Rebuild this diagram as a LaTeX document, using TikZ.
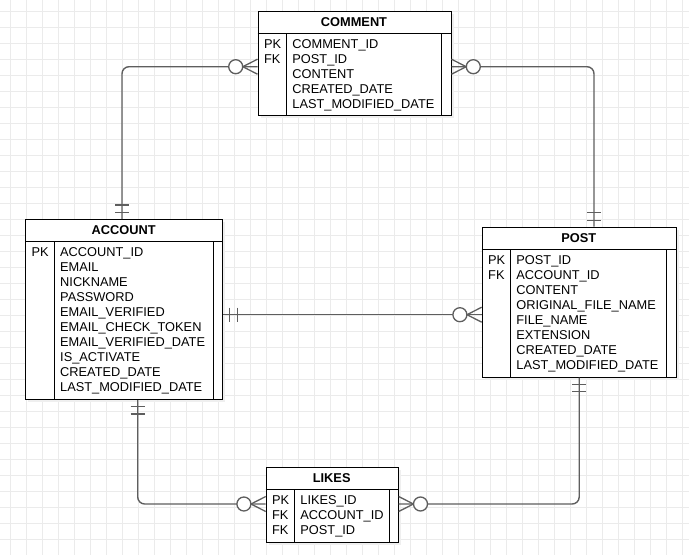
\documentclass[tikz,border=0pt]{standalone}
\usepackage{fontspec}
\setmainfont{Liberation Sans}
\definecolor{gridgray}{HTML}{EBEBEB}
\definecolor{shadowgray}{HTML}{EFEFEF}
\definecolor{conngray}{HTML}{5E5E5E}
\begin{document}
\begin{tikzpicture}[x=1pt,y=-1pt,
  gridline/.style={draw=gridgray, line width=1pt},
  tablebox/.style={draw=black, line width=1pt, fill=white, rectangle, inner sep=0pt, anchor=north west},
  rulel/.style={draw=black, line width=1pt},
  conn/.style={draw=conngray, line width=1.4pt, rounded corners=7pt},
  endmark/.style={draw=conngray, line width=1.3pt},
  title/.style={font=\bfseries\fontsize{12.8}{15}\selectfont, inner sep=0pt},
  field/.style={font=\fontsize{12.8}{15}\selectfont, inner sep=0pt, anchor=base west},
]
\useasboundingbox (0,0) rectangle (689,555);

% background grid
\foreach \i in {0,...,42} \draw[gridline] ({10.3+16*\i},0) -- ({10.3+16*\i},555);
\foreach \j in {0,...,33} \draw[gridline] (0,{11.3+16*\j}) -- (689,{11.3+16*\j});

% drop shadows of the tables
\fill[shadowgray] (260.5,13.7) rectangle (453.5,118);
\fill[shadowgray] (28,222) rectangle (225.3,402);
\fill[shadowgray] (484.7,229.7) rectangle (678.7,379.7);
\fill[shadowgray] (268.7,469.7) rectangle (400.7,544.7);

% table outlines (named so connectors can attach to them)
\node[tablebox, minimum width=193pt, minimum height=104.3pt] (comment) at (257.5,10.7) {};
\node[tablebox, minimum width=197.3pt, minimum height=180pt] (account) at (25,219) {};
\node[tablebox, minimum width=194pt, minimum height=150pt] (post) at (481.7,226.7) {};
\node[tablebox, minimum width=132pt, minimum height=75pt] (likes) at (265.7,466.7) {};

% connectors
\draw[conn] (account.north -| 122,0) |- (comment.west |- 0,66.7);
\draw[conn] (comment.east |- 0,66.7) -| (post.north -| 594,0);
\draw[conn] (account.east |- 0,314.7) -- (post.west |- 0,314.7);
\draw[conn] (account.south -| 137.7,0) |- (likes.west |- 0,504);
\draw[conn] (likes.east |- 0,504) -| (post.south);

% mandatory-one bars
\draw[endmark] (account.north -| 122,0) ++(-7,-6.5) -- ++(14,0) ++(-14,-7.5) -- ++(14,0);
\draw[endmark] (post.north -| 594,0) ++(-7,-6.5) -- ++(14,0) ++(-14,-7.5) -- ++(14,0);
\draw[endmark] (account.east |- 0,314.7) ++(6.5,-7) -- ++(0,14) ++(7.5,-14) -- ++(0,14);
\draw[endmark] (account.south -| 137.7,0) ++(-7,6.5) -- ++(14,0) ++(-14,7.5) -- ++(14,0);
\draw[endmark] (post.south) ++(-7,6.5) -- ++(14,0) ++(-14,7.5) -- ++(14,0);

% zero-or-many ends: crow's foot and circle
\draw[endmark] (comment.west |- 0,66.7) ++(0,-7.5) -- ++(-14.7,7.5) -- ++(14.7,7.5);
\draw[endmark, fill=white] (comment.west |- 0,66.7) ++(-21.8,0) circle[radius=7];
\draw[endmark] (comment.east |- 0,66.7) ++(0,-7.5) -- ++(14.7,7.5) -- ++(-14.7,7.5);
\draw[endmark, fill=white] (comment.east |- 0,66.7) ++(21.8,0) circle[radius=7];
\draw[endmark] (post.west |- 0,314.7) ++(0,-7.5) -- ++(-14.7,7.5) -- ++(14.7,7.5);
\draw[endmark, fill=white] (post.west |- 0,314.7) ++(-21.8,0) circle[radius=7];
\draw[endmark] (likes.west |- 0,504) ++(0,-7.5) -- ++(-14.7,7.5) -- ++(14.7,7.5);
\draw[endmark, fill=white] (likes.west |- 0,504) ++(-21.8,0) circle[radius=7];
\draw[endmark] (likes.east |- 0,504) ++(0,-7.5) -- ++(14.7,7.5) -- ++(-14.7,7.5);
\draw[endmark, fill=white] (likes.east |- 0,504) ++(21.8,0) circle[radius=7];

% COMMENT table
\draw[rulel] (257.5,33.1) -- (450.5,33.1);
\draw[rulel] (286.5,33.1) -- (286.5,115);
\draw[rulel] (441.5,33.1) -- (441.5,115);
\node[title] (comment-title) at (354,21.9) {COMMENT};
\node[field] (comment-k0) at (263.8,48.6) {PK};
\node[field] (comment-k1) at (263.8,63.6) {FK};
\foreach \t [count=\i from 0] in {COMMENT\_ID, POST\_ID, CONTENT, CREATED\_DATE, LAST\_MODIFIED\_DATE}
  \node[field] (comment-f\i) at (292.2,{48.6+15*\i}) {\t};

% ACCOUNT table
\draw[rulel] (25,241.4) -- (222.3,241.4);
\draw[rulel] (54,241.4) -- (54,399);
\draw[rulel] (213.3,241.4) -- (213.3,399);
\node[title] (account-title) at (123.65,230.2) {ACCOUNT};
\node[field] (account-k0) at (31.3,256.9) {PK};
\foreach \t [count=\i from 0] in {ACCOUNT\_ID, EMAIL, NICKNAME, PASSWORD, EMAIL\_VERIFIED, EMAIL\_CHECK\_TOKEN, EMAIL\_VERIFIED\_DATE, IS\_ACTIVATE, CREATED\_DATE, LAST\_MODIFIED\_DATE}
  \node[field] (account-f\i) at (60,{256.9+15*\i}) {\t};

% POST table
\draw[rulel] (481.7,249.1) -- (675.7,249.1);
\draw[rulel] (510.5,249.1) -- (510.5,376.7);
\draw[rulel] (666.7,249.1) -- (666.7,376.7);
\node[title] (post-title) at (578.7,237.9) {POST};
\node[field] (post-k0) at (488,264.6) {PK};
\node[field] (post-k1) at (488,279.6) {FK};
\foreach \t [count=\i from 0] in {POST\_ID, ACCOUNT\_ID, CONTENT, ORIGINAL\_FILE\_NAME, FILE\_NAME, EXTENSION, CREATED\_DATE, LAST\_MODIFIED\_DATE}
  \node[field] (post-f\i) at (516.2,{264.6+15*\i}) {\t};

% LIKES table
\draw[rulel] (265.7,489.1) -- (397.7,489.1);
\draw[rulel] (294.4,489.1) -- (294.4,541.7);
\draw[rulel] (389,489.1) -- (389,541.7);
\node[title] (likes-title) at (331.7,477.9) {LIKES};
\node[field] (likes-k0) at (271.8,504.6) {PK};
\node[field] (likes-k1) at (271.8,519.6) {FK};
\node[field] (likes-k2) at (271.8,534.6) {FK};
\foreach \t [count=\i from 0] in {LIKES\_ID, ACCOUNT\_ID, POST\_ID}
  \node[field] (likes-f\i) at (300.2,{504.6+15*\i}) {\t};
\end{tikzpicture}
\end{document}
